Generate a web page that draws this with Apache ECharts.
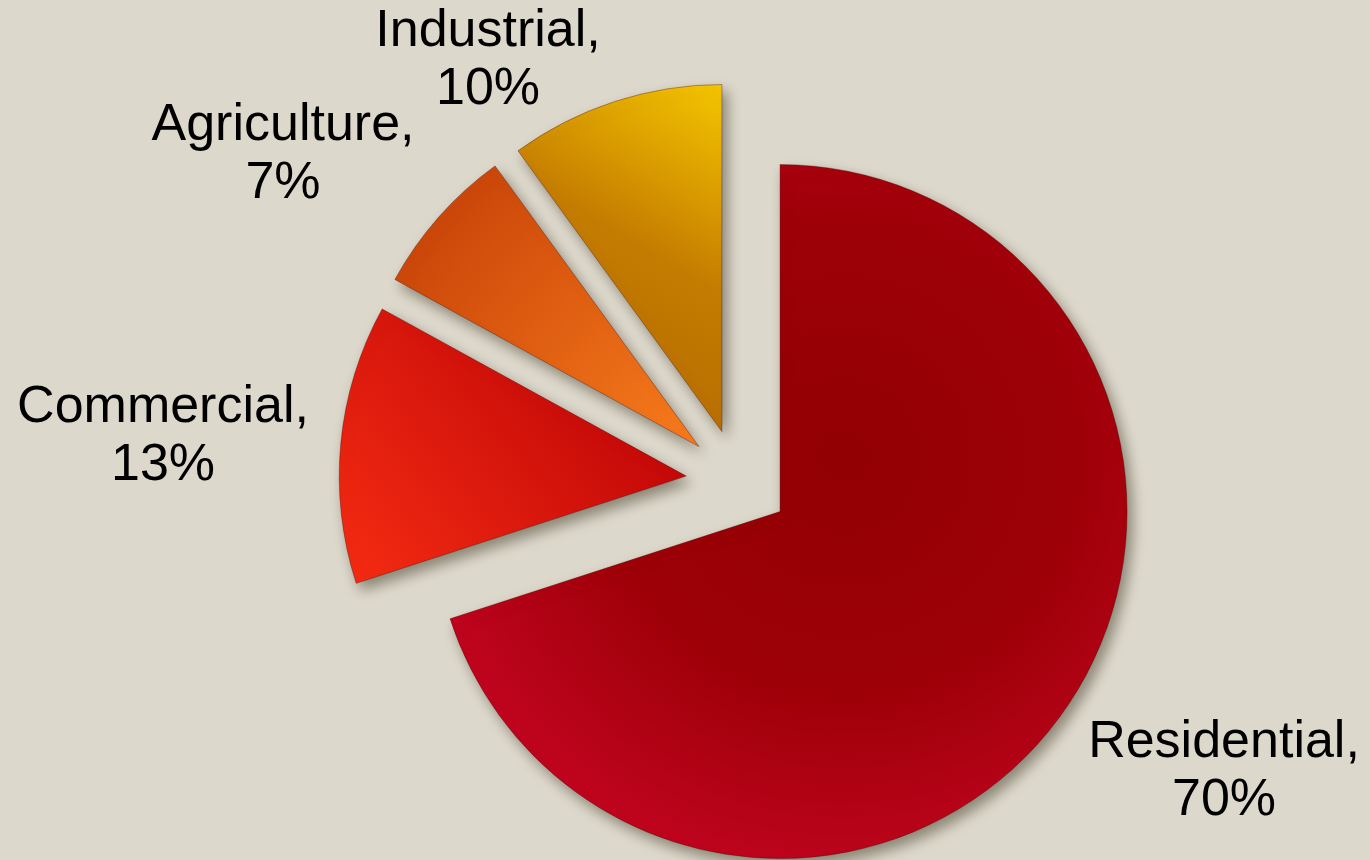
<!DOCTYPE html>
<html>
<head>
<meta charset="utf-8">
<title>Energy use by sector</title>
<script src="https://cdn.jsdelivr.net/npm/echarts@6/dist/echarts.min.js"></script>
<style>
  html, body { margin: 0; padding: 0; background: #dcd8cb; }
  #chart { width: 1370px; height: 860px; }
</style>
</head>
<body>
<div id="chart"></div>
<script>
// Sector names and their shares
const sectors = ['Residential', 'Commercial', 'Agriculture', 'Industrial'];
const shares = [70, 13, 7, 10];

// Fill for each wedge
const fills = [
  { type: 'radial', x: 0.58, y: 0.42, r: 0.78,
    colorStops: [{ offset: 0, color: '#920004' }, { offset: 0.45, color: '#9e0008' }, { offset: 1, color: '#d2062a' }] },
  { type: 'linear', x: 0.95, y: 0.05, x2: 0, y2: 1,
    colorStops: [{ offset: 0, color: '#b80006' }, { offset: 1, color: '#f52c12' }] },
  { type: 'linear', x: 0, y: 0, x2: 1, y2: 1,
    colorStops: [{ offset: 0, color: '#c23c06' }, { offset: 1, color: '#f87c1c' }] },
  { type: 'linear', x: 0, y: 1, x2: 1, y2: 0,
    colorStops: [{ offset: 0, color: '#b06400' }, { offset: 0.55, color: '#c47c00' }, { offset: 1, color: '#f5c600' }] }
];

// Centre of each two-line label block
const labelSpots = [[1224, 772], [163, 437], [283, 155], [488, 61]];

const total = shares.reduce((a, b) => a + b, 0);

const wedgeStyle = (i) => ({
  color: fills[i],
  borderColor: 'rgba(70,0,0,0.35)',
  borderWidth: 1,
  shadowBlur: 14,
  shadowOffsetX: 5,
  shadowOffsetY: 7,
  shadowColor: 'rgba(40,30,10,0.45)'
});

const chart = echarts.init(document.getElementById('chart'), null, { renderer: 'canvas' });

chart.setOption({
  backgroundColor: '#dcd8cb',
  animation: false,
  graphic: sectors.map((name, i) => ({
    type: 'text',
    x: labelSpots[i][0],
    y: labelSpots[i][1],
    z: 10,
    style: {
      text: name + ',\n' + Math.round(shares[i] / total * 100) + '%',
      fill: '#000',
      font: '52px "Liberation Sans", Arial, sans-serif',
      lineHeight: 58,
      align: 'center',
      verticalAlign: 'middle'
    }
  })),
  series: [{
    type: 'pie',
    center: [738, 481],
    radius: 347,
    startAngle: 90,
    clockwise: true,
    selectedMode: 'multiple',
    selectedOffset: 52,
    emphasis: { disabled: true, scale: false },
    label: { show: false },
    labelLine: { show: false },
    data: sectors.map((name, i) => ({
      name: name,
      value: shares[i],
      selected: true,
      itemStyle: wedgeStyle(i),
      select: { itemStyle: wedgeStyle(i) }
    }))
  }]
});
</script>
</body>
</html>
